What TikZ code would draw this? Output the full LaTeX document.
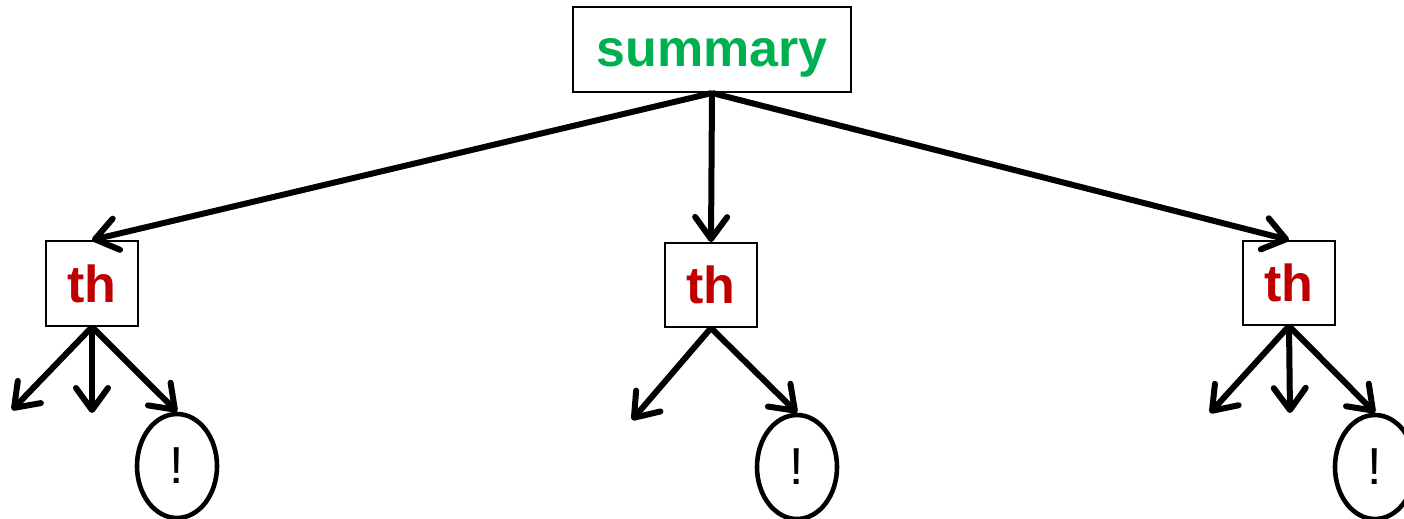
\documentclass[tikz,border=0pt]{standalone}
\usepackage{fontspec}
\setmainfont{Liberation Sans}
\usetikzlibrary{arrows.meta,shapes.geometric}
\definecolor{sgreen}{RGB}{0,176,80}
\definecolor{sred}{RGB}{192,0,0}
\begin{document}
\begin{tikzpicture}[x=0.5pt,y=-0.5pt,
  boxnode/.style={draw,line width=1pt,inner sep=0pt,text depth=0pt,font=\fontsize{26}{30}\selectfont\bfseries},
  bang/.style={draw,ellipse,line width=2.3pt,inner sep=0pt,minimum width=40pt,minimum height=52pt,font=\fontsize{26}{30}\selectfont},
  arr/.style={line width=3pt,-{Straight Barb[length=11pt,width=16pt,line cap=round,line join=round]}}]
\useasboundingbox (0,0) rectangle (1404,519);
\node[boxnode,minimum width=139pt,minimum height=42.5pt,text height=17pt,text=sgreen] (s) at (712,49.5) {summary};
\node[boxnode,minimum width=46pt,minimum height=42.5pt,text=sred] (t1) at (92,283.5) {th};
\node[boxnode,minimum width=46pt,minimum height=42pt,text=sred] (t2) at (711,285) {th};
\node[boxnode,minimum width=46pt,minimum height=42pt,text=sred] (t3) at (1289,283) {th};
\node[bang] (e1) at (177,466) {!};
\node[bang] (e2) at (797,467) {!};
\node[bang] (e3) at (1375,467) {!};
\coordinate (a1) at (12,410);
\coordinate (b1) at (92,413);
\coordinate (a2) at (632,420);
\coordinate (a3) at (1210,413);
\coordinate (b3) at (1290,413);
\draw[arr] (s.south) -- (t1.north);
\draw[arr] (s.south) -- (t2.north);
\draw[arr] (s.south) -- (t3.north);
\draw[arr] (t1.south) -- (a1);
\draw[arr] (t1.south) -- (b1);
\draw[arr] (t1.south) -- (e1.north);
\draw[arr] (t2.south) -- (a2);
\draw[arr] (t2.south) -- (e2.north);
\draw[arr] (t3.south) -- (a3);
\draw[arr] (t3.south) -- (b3);
\draw[arr] (t3.south) -- (e3.north);
\end{tikzpicture}
\end{document}
